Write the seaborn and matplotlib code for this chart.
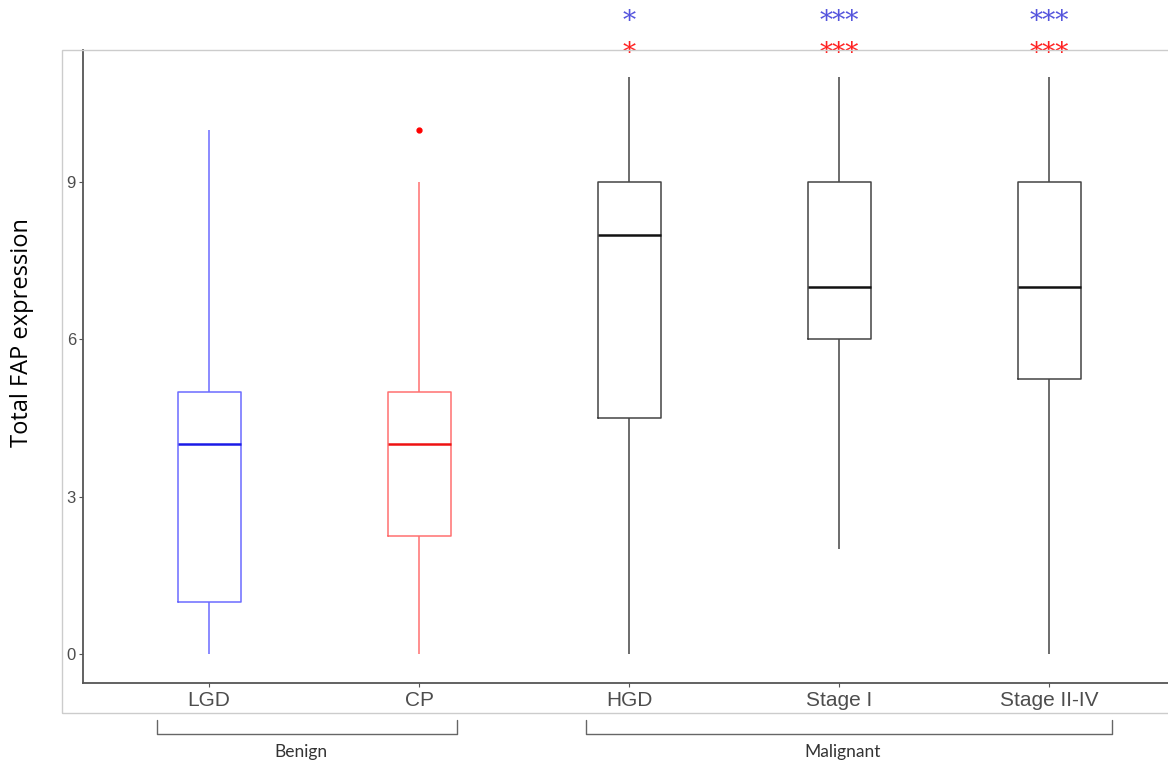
import pandas as pd
import matplotlib.pyplot as plt
import matplotlib.transforms as mtransforms
from matplotlib.patches import Rectangle
import seaborn as sns

# DADOS
grupos = ['LGD', 'CP', 'HGD', 'Stage I', 'Stage II-IV']
valores_lgd = [0, 1, 1, 3, 4, 4, 5, 7, 10]
valores_cp = [0, 1, 2.25, 3, 4, 4.5, 5, 9, 10]
valores_hgd = [0, 3, 4.5, 6, 8, 8, 9, 10, 11]
valores_stage1 = [2, 5, 6, 7, 7, 8, 9, 10, 11]
valores_stage2_4 = [0, 4, 5.25, 6, 7, 8, 9, 10, 11]
significancia_azul = ['', '', '*', '***', '***']
significancia_vermelha = ['', '', '*', '***', '***']
classes = [('Benign', 'LGD', 'CP'), ('Malignant', 'HGD', 'Stage II-IV')]

df = pd.DataFrame({
    'grupo': ['LGD'] * len(valores_lgd) + ['CP'] * len(valores_cp)
             + ['HGD'] * len(valores_hgd) + ['Stage I'] * len(valores_stage1)
             + ['Stage II-IV'] * len(valores_stage2_4),
    'valor': valores_lgd + valores_cp + valores_hgd + valores_stage1 + valores_stage2_4,
})

# Style
sns.set_style('white')
plt.rcParams['font.family'] = ['Liberation Sans', 'DejaVu Sans']

cores_caixa = {'LGD': '#6b6bff', 'CP': '#ff7070', 'HGD': '#444444',
               'Stage I': '#444444', 'Stage II-IV': '#444444'}
cores_mediana = {'LGD': '#1a1ae6', 'CP': '#ee1111', 'HGD': '#111111',
                 'Stage I': '#111111', 'Stage II-IV': '#111111'}

fig = plt.figure(figsize=(11.68, 7.67), dpi=100)
ax = fig.add_axes([83 / 1168, 84 / 767, 1 - 83 / 1168, 633 / 767])

for g in grupos:
    sub = df[df['grupo'] == g]
    sns.boxplot(data=sub, x='grupo', y='valor', order=grupos, ax=ax,
                color=cores_caixa[g], fill=False, width=0.3, showcaps=False,
                linewidth=1.1,
                medianprops=dict(color=cores_mediana[g], linewidth=1.8),
                flierprops=dict(marker='o', markersize=3.5, markerfacecolor='red',
                                markeredgecolor='red'))

ax.set_xlim(-0.6, (1168 - 209) / 210)
ax.set_ylim(-0.55, 11.52)
ax.set_yticks([0, 3, 6, 9])
ax.set_xlabel('')
ax.set_ylabel('')
for s in ['top', 'right']:
    ax.spines[s].set_visible(False)
for s in ['left', 'bottom']:
    ax.spines[s].set_color('#555555')
    ax.spines[s].set_linewidth(1.3)
ax.tick_params(axis='both', length=3, color='#555555', colors='#4d4d4d', left=True, bottom=True)
ax.tick_params(axis='x', labelsize=15, pad=3)
ax.tick_params(axis='y', labelsize=12, pad=2)

fig.text(22 / 1168, 1 - 333 / 767, 'Total FAP expression', rotation=90,
         ha='center', va='center', fontsize=17, family=['Open Sans', 'DejaVu Sans'],
         color='black')

# moldura externa
fig.patches.append(Rectangle((62 / 1168, 1 - 713 / 767), 1.2, 663 / 767,
                             transform=fig.transFigure, fill=False,
                             edgecolor='#cccccc', linewidth=1))

# asteriscos
for i, (a, v) in enumerate(zip(significancia_azul, significancia_vermelha)):
    ax.text(i, 12.06, a, ha='center', va='center', fontsize=19, color='#5555dd',
            family=['DejaVu Serif'], clip_on=False)
    ax.text(i, 11.46, v, ha='center', va='center', fontsize=19, color='#ff2222',
            family=['DejaVu Serif'], clip_on=False)

# chaves Benign / Malignant
trans = mtransforms.blended_transform_factory(ax.transData, fig.transFigure)
y_topo, y_base = 1 - 720 / 767, 1 - 734 / 767
margens = {'Benign': (-0.248, 0.181), 'Malignant': (-0.205, 0.3)}
for nome, ini, fim in classes:
    x0 = grupos.index(ini) + margens[nome][0]
    x1 = grupos.index(fim) + margens[nome][1]
    ax.plot([x0, x0, x1, x1], [y_topo, y_base, y_base, y_topo], transform=trans,
            color='#666666', linewidth=1, clip_on=False)
    ax.text((x0 + x1) / 2 - 0.03, 1 - 752 / 767, nome, transform=trans, ha='center',
            va='center', fontsize=12.5, family=['Lato', 'DejaVu Sans'], color='#333333')

plt.savefig('out.png', dpi=100)
